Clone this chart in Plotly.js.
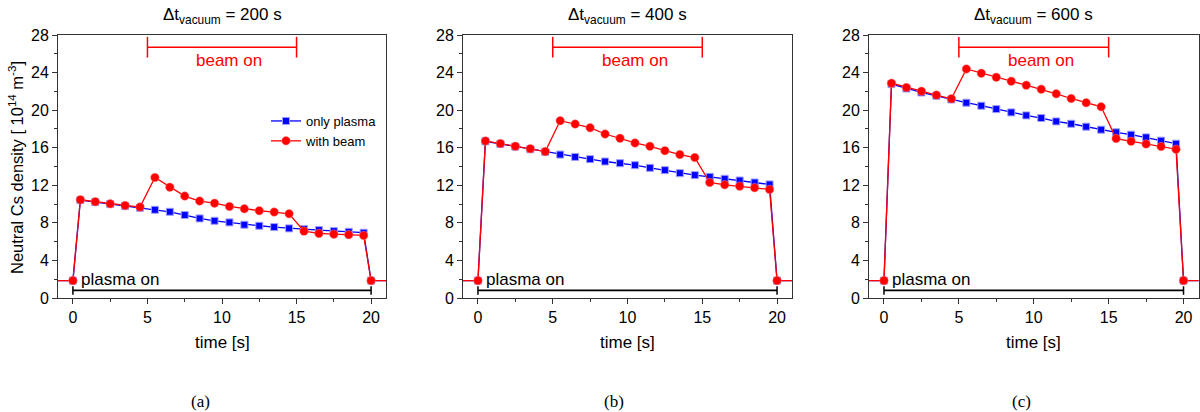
<!DOCTYPE html>
<html>
<head>
<meta charset="utf-8">
<script src="https://cdn.plot.ly/plotly-3.0.1.min.js"></script>
<style>html,body{margin:0;padding:0;background:#fff;}#chart{width:1200px;height:412px;}</style>
</head>
<body>
<div id="chart"></div>
<script>
// ---- data ----
const time = [-2, 0, 0.5, 1.5, 2.5, 3.5, 4.5, 5.5, 6.5, 7.5, 8.5, 9.5, 10.5, 11.5, 12.5, 13.5, 14.5, 15.5, 16.5, 17.5, 18.5, 19.5, 20, 22];
const vacuumTimes = [200, 400, 600];
const panelLabels = ["(a)", "(b)", "(c)"];

const plasma200 = [1.85, 1.85, 10.42, 10.21, 10.0, 9.78, 9.6, 9.39, 9.18, 8.83, 8.47, 8.22, 8.05, 7.8, 7.69, 7.55, 7.41, 7.34, 7.23, 7.12, 7.05, 6.95, 1.85, 1.85];
const beam200   = [1.85, 1.85, 10.46, 10.25, 10.03, 9.85, 9.68, 12.83, 11.8, 10.85, 10.32, 10.1, 9.75, 9.5, 9.29, 9.15, 8.97, 7.12, 6.88, 6.8, 6.74, 6.66, 1.85, 1.85];

const plasma400 = [1.85, 1.85, 16.68, 16.4, 16.12, 15.84, 15.55, 15.27, 15.02, 14.78, 14.53, 14.35, 14.14, 13.86, 13.61, 13.29, 13.08, 12.9, 12.69, 12.51, 12.3, 12.09, 1.85, 1.85];
const beam400   = [1.85, 1.85, 16.72, 16.44, 16.15, 15.9, 15.59, 18.88, 18.52, 18.13, 17.46, 17.0, 16.51, 16.15, 15.69, 15.27, 14.95, 12.3, 12.05, 11.91, 11.74, 11.56, 1.85, 1.85];

const plasma600 = [1.85, 1.85, 22.77, 22.3, 21.88, 21.53, 21.14, 20.79, 20.47, 20.11, 19.76, 19.44, 19.16, 18.8, 18.55, 18.24, 17.92, 17.64, 17.39, 17.1, 16.75, 16.43, 1.85, 1.85];
const beam600   = [1.85, 1.85, 22.87, 22.41, 22.02, 21.6, 21.21, 24.39, 23.93, 23.5, 23.08, 22.66, 22.23, 21.74, 21.24, 20.79, 20.36, 16.97, 16.68, 16.4, 16.12, 15.84, 1.85, 1.85];

const beamInterval = [5, 15];
const plasmaInterval = [0, 20];
const beamBarY = 26.7;
const plasmaBarY = 0.82;

const yTicks = [0, 4, 8, 12, 16, 20, 24, 28];
const xTicks = [0, 5, 10, 15, 20];

const seriesPlasma = [plasma200, plasma400, plasma600];
const seriesBeam = [beam200, beam400, beam600];

// ---- layout helpers ----
const W = 1200, H = 412;
const domainsX = [[58 / W, 386 / W], [463 / W, 792 / W], [869 / W, 1198.5 / W]];
const domainY = [(H - 298) / H, (H - 35) / H];
const labelX = [200 / W, 614 / W, 1021 / W];
const BLUE = '#0000ff', RED = '#ff0000';
const FONT = 'Liberation Sans, Arial, sans-serif';

const traces = [];
const layout = {
  width: W, height: H,
  margin: {l: 0, r: 0, t: 0, b: 0},
  paper_bgcolor: '#fff', plot_bgcolor: '#fff',
  font: {family: FONT, size: 13, color: '#000'},
  showlegend: true,
  legend: {x: 266 / W, y: 1 - 106 / H, xanchor: 'left', yanchor: 'top',
           bgcolor: 'rgba(0,0,0,0)', font: {size: 13, family: FONT}, tracegroupgap: 0,
           itemwidth: 30},
  annotations: [], shapes: []
};

for (let i = 0; i < 3; i++) {
  const sfx = i === 0 ? '' : String(i + 1);
  const xa = 'x' + sfx, ya = 'y' + sfx;
  traces.push({
    x: time, y: seriesPlasma[i], xaxis: xa, yaxis: ya, type: 'scatter', mode: 'lines+markers',
    name: 'only plasma', showlegend: i === 0, legendrank: 1,
    line: {color: BLUE, width: 1.3},
    marker: {symbol: 'square', size: 7, color: BLUE, line: {color: '#9f9fff', width: 1}}
  });
  traces.push({
    x: time, y: seriesBeam[i], xaxis: xa, yaxis: ya, type: 'scatter', mode: 'lines+markers',
    name: 'with beam', showlegend: i === 0, legendrank: 2,
    line: {color: RED, width: 1.3},
    marker: {symbol: 'circle', size: 8.5, color: RED, line: {color: '#ff8080', width: 0.5}}
  });

  const axX = {
    domain: domainsX[i], range: [-1, 21], anchor: ya,
    tickvals: xTicks, ticks: 'outside', ticklen: 5, tickwidth: 1, tickcolor: '#333',
    showline: true, linecolor: '#333', linewidth: 1, mirror: true, showgrid: false, zeroline: false,
    tickfont: {size: 16, family: FONT, color: '#000'},
    minor: {dtick: 2.5, tick0: 0, ticks: 'outside', ticklen: 3, tickcolor: '#333', showgrid: false}
  };
  const axY = {
    domain: domainY, range: [0, 28], anchor: xa,
    tickvals: yTicks, ticks: 'outside', ticklen: 5, tickwidth: 1, tickcolor: '#333',
    showline: true, linecolor: '#333', linewidth: 1, mirror: true, showgrid: false, zeroline: false,
    tickfont: {size: 16, family: FONT, color: '#000'},
    minor: {dtick: 2, tick0: 0, ticks: 'outside', ticklen: 3, tickcolor: '#333', showgrid: false}
  };
  layout['xaxis' + sfx] = axX;
  layout['yaxis' + sfx] = axY;

  const xr = xa, yr = ya;
  // beam on bracket
  layout.shapes.push({type: 'line', xref: xr, yref: yr, x0: beamInterval[0], x1: beamInterval[1], y0: beamBarY, y1: beamBarY, line: {color: RED, width: 1.5}});
  layout.shapes.push({type: 'line', xref: xr, yref: yr, x0: beamInterval[0], x1: beamInterval[0], y0: 25.6, y1: 27.8, line: {color: RED, width: 1.5}});
  layout.shapes.push({type: 'line', xref: xr, yref: yr, x0: beamInterval[1], x1: beamInterval[1], y0: 25.6, y1: 27.8, line: {color: RED, width: 1.5}});
  // plasma on bracket
  layout.shapes.push({type: 'line', xref: xr, yref: yr, x0: plasmaInterval[0], x1: plasmaInterval[1], y0: plasmaBarY, y1: plasmaBarY, line: {color: '#000', width: 1.8}});
  layout.shapes.push({type: 'line', xref: xr, yref: yr, x0: plasmaInterval[0], x1: plasmaInterval[0], y0: 0.35, y1: 1.25, line: {color: '#000', width: 1.5}});
  layout.shapes.push({type: 'line', xref: xr, yref: yr, x0: plasmaInterval[1], x1: plasmaInterval[1], y0: 0.35, y1: 1.25, line: {color: '#000', width: 1.5}});

  layout.annotations.push({xref: xr, yref: yr, x: 10.5, y: 25.25, text: 'beam on', showarrow: false,
    font: {color: RED, size: 17, family: FONT}, xanchor: 'center', yanchor: 'middle'});
  layout.annotations.push({xref: xr, yref: yr, x: 0.42, y: 1.95, text: 'plasma on', showarrow: false,
    font: {color: '#000', size: 17, family: FONT}, xanchor: 'left', yanchor: 'middle'});

  const cx = (domainsX[i][0] + domainsX[i][1]) / 2;
  layout.annotations.push({xref: 'paper', yref: 'paper', x: cx, y: 1 - 16 / H,
    text: '\u0394t<sub>vacuum</sub> = ' + vacuumTimes[i] + ' s', showarrow: false,
    font: {size: 17, family: FONT, color: '#000'}, xanchor: 'center', yanchor: 'middle'});
  layout.annotations.push({xref: 'paper', yref: 'paper', x: cx, y: 1 - 342 / H,
    text: 'time [s]', showarrow: false,
    font: {size: 17, family: FONT, color: '#000'}, xanchor: 'center', yanchor: 'middle'});
  layout.annotations.push({xref: 'paper', yref: 'paper', x: labelX[i], y: 1 - 401 / H,
    text: panelLabels[i], showarrow: false,
    font: {size: 17, family: 'Liberation Serif, Times New Roman, serif', color: '#000'}, xanchor: 'center', yanchor: 'middle'});
}

layout.annotations.push({xref: 'paper', yref: 'paper', x: 16 / W, y: 1 - 168 / H,
  text: 'Neutral Cs density [ 10<sup>14</sup> m<sup>-3</sup>]', showarrow: false, textangle: -90,
  font: {size: 16.5, family: FONT, color: '#000'}, xanchor: 'center', yanchor: 'middle'});

Plotly.newPlot('chart', traces, layout, {staticPlot: true, displayModeBar: false});
</script>
</body>
</html>
